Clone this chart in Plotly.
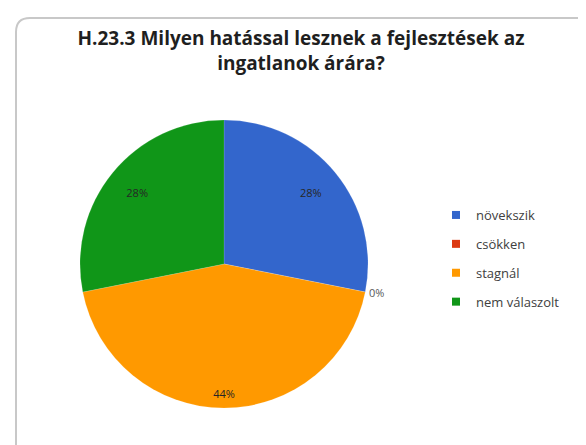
import plotly.graph_objects as go

categories = ["növekszik", "csökken", "stagnál", "nem válaszolt"]
values = [9, 0, 14, 9]
colors = ["#3366CC", "#DC3912", "#FF9900", "#109618"]
title_text = "<b>H.23.3 Milyen hatással lesznek a fejlesztések az<br>ingatlanok árára?</b>"

FONT = "Open Sans, Liberation Sans, sans-serif"
W, H = 586, 445
# pie box in pixels (left, right, top, bottom)
pl, pr, pt, pb = 72, 360, 112, 400
dom = dict(x=[pl / W, pr / W], y=[(H - pb) / H, (H - pt) / H])
transparent = ["rgba(0,0,0,0)"] * len(values)

fig = go.Figure()
# main pie (colours + outside 0% label)
fig.add_trace(go.Pie(
    labels=categories, values=values, sort=False, direction="clockwise", rotation=0,
    marker=dict(colors=colors, line=dict(color="rgba(255,255,255,0.25)", width=0.5)),
    texttemplate=["" if v else "%{percent:.0%}" for v in values],
    textposition="outside",
    outsidetextfont=dict(family=FONT, size=11, color="#595959"),
    showlegend=False, hoverinfo="label+percent", domain=dom,
))
# label ring for the two 28% slices
fig.add_trace(go.Pie(
    labels=categories, values=values, sort=False, direction="clockwise", rotation=0,
    hole=0.56, marker=dict(colors=transparent, line=dict(width=0)),
    texttemplate=["%{percent:.0%}" if (v and i != 2) else "" for i, v in enumerate(values)],
    textposition="inside", insidetextorientation="horizontal",
    insidetextfont=dict(family=FONT, size=11, color="#262626"),
    showlegend=False, hoverinfo="skip", domain=dom,
))
# label ring for the 44% slice (placed nearer the rim)
fig.add_trace(go.Pie(
    labels=categories, values=values, sort=False, direction="clockwise", rotation=0,
    hole=0.80, marker=dict(colors=transparent, line=dict(width=0)),
    texttemplate=["%{percent:.0%}" if i == 2 else "" for i in range(len(values))],
    textposition="inside", insidetextorientation="horizontal",
    insidetextfont=dict(family=FONT, size=11, color="#262626"),
    showlegend=False, hoverinfo="skip", domain=dom,
))
# legend entries
for i, (cat, col) in enumerate(zip(categories, colors)):
    fig.add_trace(go.Scatter(
        x=[None], y=[None], mode="markers", name=cat,
        marker=dict(symbol="square", size=8, color=col),
        legendgroup=f"g{i}", showlegend=True, hoverinfo="skip",
    ))

fig.update_layout(
    width=W, height=H,
    margin=dict(l=0, r=0, t=0, b=0),
    paper_bgcolor="white", plot_bgcolor="white",
    xaxis=dict(visible=False), yaxis=dict(visible=False),
    title=dict(
        text=title_text, x=0.5, xanchor="center",
        y=(H - 37) / H, yanchor="top",
        font=dict(family=FONT, size=19, color="#1f1f1f"),
    ),
    legend=dict(
        x=428 / W, xanchor="left", y=(H - 192) / H, yanchor="top",
        font=dict(family=FONT, size=13, color="#404040"),
        itemwidth=30, tracegroupgap=9, bgcolor="rgba(0,0,0,0)",
    ),
    shapes=[
        dict(type="path", xref="paper", yref="paper",
             path=f"M {8/W},0 L {8/W},{(H-24)/H} Q {8/W},{(H-10)/H} {22/W},{(H-10)/H} L 1,{(H-10)/H}",
             line=dict(color="#c8c8c8", width=2)),
    ],
)

fig.write_html("out.html")
